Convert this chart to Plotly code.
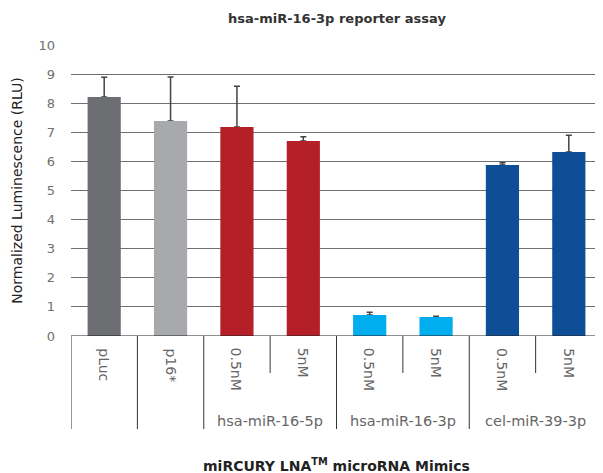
import plotly.graph_objects as go

categories = ["pLuc", "p16*", "hsa-miR-16-5p 0.5nM", "hsa-miR-16-5p 5nM",
              "hsa-miR-16-3p 0.5nM", "hsa-miR-16-3p 5nM",
              "cel-miR-39-3p 0.5nM", "cel-miR-39-3p 5nM"]
cell_labels = ["pLuc", "p16*", "0.5nM", "5nM", "0.5nM", "5nM", "0.5nM", "5nM"]
values = [8.21, 7.39, 7.18, 6.70, 0.72, 0.65, 5.88, 6.32]
errors = [0.68, 1.51, 1.40, 0.15, 0.10, 0.03, 0.07, 0.58]
colors = ["#6d6e71", "#a7a9ac", "#b51f28", "#b51f28",
          "#00adef", "#00adef", "#0e4e96", "#0e4e96"]
groups = ["hsa-miR-16-5p", "hsa-miR-16-3p", "cel-miR-39-3p"]
group_centers = [2.5, 4.5, 6.5]

FONT = "DejaVu Sans"
x = list(range(len(categories)))

fig = go.Figure()
# invisible bars carrying the error bars, drawn underneath the coloured bars
fig.add_trace(go.Bar(
    x=x, y=values, marker=dict(color="rgba(0,0,0,0)", line=dict(width=0)),
    error_y=dict(type="data", array=errors, arrayminus=[0]*len(errors),
                 symmetric=False, color="#444444", thickness=1.5, width=3),
    hoverinfo="skip", showlegend=False,
))
fig.add_trace(go.Bar(
    x=x, y=values, marker=dict(color=colors, line=dict(width=0)),
    hoverinfo="skip", showlegend=False,
))

shapes = []
full = [-0.5, 0.5, 1.5, 3.5, 5.5, 7.5]
short = [2.5, 4.5, 6.5]
for xv in full:
    shapes.append(dict(type="line", xref="x", yref="paper", ysizemode="pixel", yanchor=0,
                       x0=xv, x1=xv, y0=0, y1=-93, line=dict(color="#333333", width=1)))
for xv in short:
    shapes.append(dict(type="line", xref="x", yref="paper", ysizemode="pixel", yanchor=0,
                       x0=xv, x1=xv, y0=0, y1=-37, line=dict(color="#333333", width=1)))
shapes.append(dict(type="line", xref="paper", yref="y", x0=0, x1=1, y0=0, y1=0,
                   line=dict(color="#222222", width=1.2)))

annotations = []
for i, lab in enumerate(cell_labels):
    annotations.append(dict(x=i, y=0, xref="x", yref="paper", text=lab, showarrow=False,
                            textangle=90, xanchor="center", yanchor="top", yshift=-10,
                            font=dict(family=FONT, size=14, color="#666666")))
for g, c in zip(groups, group_centers):
    annotations.append(dict(x=c, y=0, xref="x", yref="paper", text=g, showarrow=False,
                            xanchor="center", yanchor="middle", yshift=-85,
                            font=dict(family=FONT, size=14.5, color="#666666")))
annotations.append(dict(x=0.5, y=1, xref="paper", yref="paper", xanchor="center", yanchor="middle",
                        yshift=27, showarrow=False,
                        text="<b>hsa-miR-16-3p reporter assay</b>",
                        font=dict(family=FONT, size=13, color="#333333")))
annotations.append(dict(x=0.5, y=0, xref="paper", yref="paper", xanchor="center", yanchor="middle",
                        yshift=-129, showarrow=False,
                        text="<b>miRCURY LNA<sup>TM</sup> microRNA Mimics</b>",
                        font=dict(family=FONT, size=14, color="#222222")))

# the page body has an 8px default margin, so the figure is sized to fit inside the window
fig.update_layout(
    width=595, height=465,
    margin=dict(l=63, r=1, t=37, b=137, autoexpand=False),
    paper_bgcolor="white", plot_bgcolor="white",
    bargap=0.5, barmode="overlay",
    shapes=shapes, annotations=annotations,
    xaxis=dict(range=[-0.5, 7.5], showticklabels=False, showgrid=False, zeroline=False,
               showline=False, ticks="", fixedrange=True, automargin=False),
    yaxis=dict(range=[0, 10], dtick=1, showgrid=True, gridcolor="#6f6f6f", gridwidth=1,
               zeroline=False, showline=False, ticks="", ticklabelstandoff=15, automargin=False,
               tickfont=dict(family=FONT, size=13, color="#707070"),
               title=dict(text="Normalized Luminescence (RLU)", standoff=12,
                          font=dict(family=FONT, size=14, color="#222222"))),
)

fig.write_html("out.html")
